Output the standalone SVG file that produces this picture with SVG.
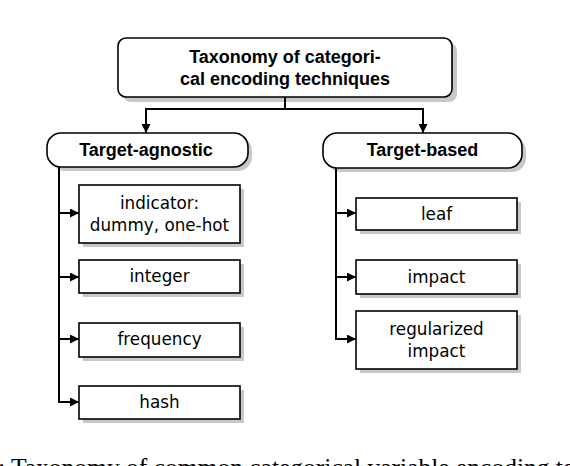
<svg xmlns="http://www.w3.org/2000/svg" width="570" height="466" viewBox="0 0 570 466">
<style>
.box{fill:#fff;stroke:#000;stroke-width:1.6}
.sh{fill:#c8c8c8}
.t{font-family:"Liberation Sans",Arial,sans-serif;font-weight:bold;font-size:18px;text-anchor:middle;fill:#000}
.c{font-family:"DejaVu Sans",sans-serif;font-size:16.8px;text-anchor:middle;fill:#000}
.cap{font-family:"Liberation Serif","Times New Roman",serif;font-size:25.5px;fill:#000}
.ln{fill:none;stroke:#000;stroke-width:2}
</style>
<defs>
<marker id="ah" viewBox="0 0 10 10" refX="10" refY="5" markerWidth="10" markerHeight="9" markerUnits="userSpaceOnUse" orient="auto">
<path d="M0,0 L10,5 L0,10 z" fill="#000"/>
</marker>
</defs>
<rect width="570" height="466" fill="#fff"/>
<g id="root">
<rect class="sh" x="123" y="43" width="334" height="59" rx="8"/>
<rect class="box" x="118" y="38" width="334" height="59" rx="8"/>
<text class="t" x="285" y="63">Taxonomy of categori-</text>
<text class="t" x="285" y="85">cal encoding techniques</text>
</g>
<g id="agnostic">
<rect class="sh" x="51" y="137" width="201" height="34" rx="14"/>
<rect class="box" x="47" y="133" width="201" height="34" rx="14"/>
<text class="t" x="146" y="156">Target-agnostic</text>
</g>
<g id="based">
<rect class="sh" x="327" y="137" width="199" height="35" rx="14"/>
<rect class="box" x="323" y="133" width="199" height="35" rx="14"/>
<text class="t" x="422.5" y="156">Target-based</text>
</g>
<g id="indicator">
<rect class="sh" x="83" y="189" width="161" height="58"/>
<rect class="box" x="79" y="185" width="161" height="58"/>
<text class="c" x="159.5" y="209">indicator:</text>
<text class="c" x="159.5" y="231">dummy, one-hot</text>
</g>
<g id="integer">
<rect class="sh" x="83" y="264" width="161" height="33"/>
<rect class="box" x="79" y="260" width="161" height="33"/>
<text class="c" x="159.5" y="282">integer</text>
</g>
<g id="frequency">
<rect class="sh" x="83" y="327" width="161" height="34"/>
<rect class="box" x="79" y="323" width="161" height="34"/>
<text class="c" x="159.5" y="345">frequency</text>
</g>
<g id="hash">
<rect class="sh" x="83" y="390" width="161" height="33"/>
<rect class="box" x="79" y="386" width="161" height="33"/>
<text class="c" x="159.5" y="408">hash</text>
</g>
<g id="leaf">
<rect class="sh" x="360" y="202" width="161" height="32"/>
<rect class="box" x="356" y="198" width="161" height="32"/>
<text class="c" x="436.5" y="220">leaf</text>
</g>
<g id="impact">
<rect class="sh" x="360" y="264" width="161" height="34"/>
<rect class="box" x="356" y="260" width="161" height="34"/>
<text class="c" x="436.5" y="283">impact</text>
</g>
<g id="regularized">
<rect class="sh" x="360" y="315" width="161" height="58"/>
<rect class="box" x="356" y="311" width="161" height="58"/>
<text class="c" x="436.5" y="335">regularized</text>
<text class="c" x="436.5" y="357">impact</text>
</g>
<g id="connectors">
<path class="ln" d="M285,97 V109"/>
<path class="ln" d="M285,109 H146 V133" marker-end="url(#ah)"/>
<path class="ln" d="M285,109 H423 V133" marker-end="url(#ah)"/>
<path class="ln" d="M59,167 V402 H79" marker-end="url(#ah)"/>
<path class="ln" d="M59,213 H79" marker-end="url(#ah)"/>
<path class="ln" d="M59,277 H79" marker-end="url(#ah)"/>
<path class="ln" d="M59,339 H79" marker-end="url(#ah)"/>
<path class="ln" d="M336,168 V339 H356" marker-end="url(#ah)"/>
<path class="ln" d="M336,213 H356" marker-end="url(#ah)"/>
<path class="ln" d="M336,277 H356" marker-end="url(#ah)"/>
</g>
<text class="cap" x="-2" y="476">: Taxonomy of common categorical variable encoding te</text>
</svg>
